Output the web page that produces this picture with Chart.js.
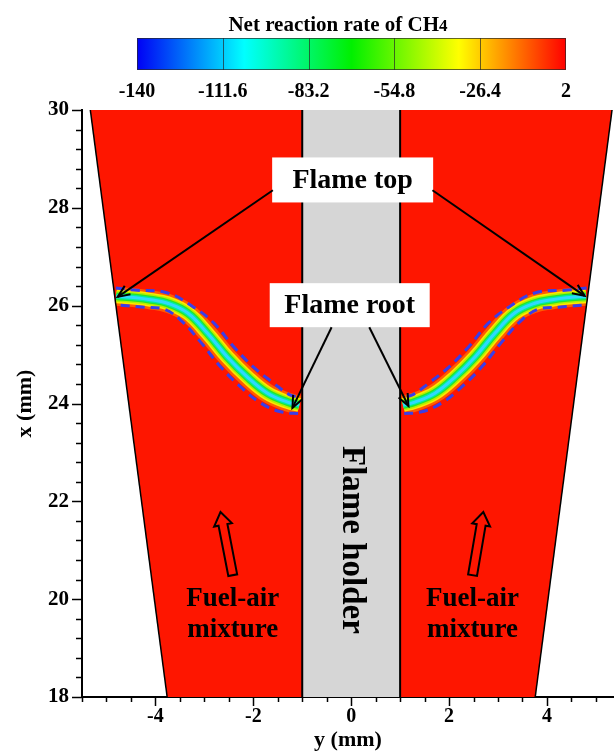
<!DOCTYPE html>
<html>
<head>
<meta charset="utf-8">
<script src="https://cdn.jsdelivr.net/npm/chart.js@4.4.1/dist/chart.umd.min.js"></script>
<style>
  html, body { margin: 0; padding: 0; background: #fff; overflow: hidden; }
  #wrap { width: 614px; height: 754px; }
</style>
</head>
<body>
<div id="wrap"><canvas id="flameChart"></canvas></div>
<script>
// channel geometry: axial positions (x, mm) and wall half widths (y, mm)
const wallX = [30, 18];
const wallHalfWidth = [5.33, 3.76];
const holderHalfWidth = [1.0, 1.0];

// flame front centre line, left branch (y, x)
const flameY = [-4.80, -4.40, -4.10, -3.75, -3.34, -2.94, -2.53, -2.12, -1.71, -1.30, -1.06];
const flameX = [26.19, 26.16, 26.12, 26.05, 25.85, 25.44, 24.95, 24.54, 24.21, 24.03, 23.97];

// dashed iso-lines either side of the flame, left branch
const upperY = [-4.81, -4.44, -3.75, -3.22, -2.81, -2.40, -2.00, -1.59, -1.24, -1.04];
const upperX = [26.36, 26.32, 26.26, 25.97, 25.65, 25.16, 24.75, 24.42, 24.17, 24.13];
const lowerY = [-4.71, -4.24, -3.83, -3.49, -3.08, -2.67, -2.26, -1.85, -1.44, -1.04];
const lowerX = [26.01, 25.97, 25.93, 25.71, 25.26, 24.75, 24.34, 24.01, 23.83, 23.79];

// colour bar
const barTicks = [-140, -111.6, -83.2, -54.8, -26.4, 2];
const barColors = ['#0000f5', '#00ffff', '#00f000', '#ffff00', '#ff0000'];

// axis ticks
const xTickLabels = [-4, -2, 0, 2, 4];
const yTickLabels = [18, 20, 22, 24, 26, 28, 30];
const xMinorStep = 0.5;
const yMinorStep = 0.4;

const RED = '#fe1600';
const GREY = '#d6d6d6';
const FONT = 'Liberation Serif';

function pts(ys, xs) {
  return ys.map((v, i) => ({ x: v, y: xs[i] }));
}
function mirror(p) {
  return p.map(q => ({ x: -q.x, y: q.y }));
}

const leftRed = [
  { x: -wallHalfWidth[0], y: wallX[0] }, { x: -holderHalfWidth[0], y: wallX[0] },
  { x: -holderHalfWidth[1], y: wallX[1] }, { x: -wallHalfWidth[1], y: wallX[1] }
];
const holder = [
  { x: -holderHalfWidth[0], y: wallX[0] }, { x: holderHalfWidth[0], y: wallX[0] },
  { x: holderHalfWidth[1], y: wallX[1] }, { x: -holderHalfWidth[1], y: wallX[1] }
];

const flameL = pts(flameY, flameX);
const upperL = pts(upperY, upperX);
const lowerL = pts(lowerY, lowerX);

const bandLayers = [
  { color: 'rgba(255,150,0,0.55)', width: 19 },
  { color: '#ffe600', width: 14 },
  { color: '#b4f000', width: 11 },
  { color: '#28e428', width: 8 },
  { color: '#00eea0', width: 5.5 },
  { color: '#30d8ff', width: 3 }
];

// datasets listed from bottom to top
const datasets = [];
datasets.push({ data: leftRed, fill: 'shape', backgroundColor: RED, borderColor: RED, borderWidth: 1 });
datasets.push({ data: mirror(leftRed), fill: 'shape', backgroundColor: RED, borderColor: RED, borderWidth: 1 });
datasets.push({ data: holder, fill: 'shape', backgroundColor: GREY, borderColor: GREY, borderWidth: 1 });
bandLayers.forEach(l => {
  [flameL, mirror(flameL)].forEach(d => {
    datasets.push({ data: d, borderColor: l.color, borderWidth: l.width, tension: 0.4, borderCapStyle: 'butt' });
  });
});
[upperL, lowerL, mirror(upperL), mirror(lowerL)].forEach(d => {
  datasets.push({ data: d, borderColor: '#3a3ee8', borderWidth: 3, borderDash: [9, 6], tension: 0.4 });
});
// walls
[-1, 1].forEach(s => {
  datasets.push({ data: [{ x: s * wallHalfWidth[0], y: wallX[0] }, { x: s * wallHalfWidth[1], y: wallX[1] }], borderColor: '#000', borderWidth: 1.5 });
  datasets.push({ data: [{ x: s * holderHalfWidth[0], y: wallX[0] }, { x: s * holderHalfWidth[1], y: wallX[1] }], borderColor: '#000', borderWidth: 2 });
});
datasets.forEach((d, i) => {
  d.showLine = true;
  d.pointRadius = 0;
  d.order = datasets.length - i;
});

// annotation placement in data units
const notes = {
  topBox: { x: 0.03, y: 28.57, w: 161, h: 45, text: 'Flame top' },
  rootBox: { x: -0.03, y: 26.01, w: 160, h: 44, text: 'Flame root' },
  topArrows: [[-1.6, 28.36, -4.77, 26.18], [1.66, 28.36, 4.77, 26.2]],
  rootArrows: [[-0.40, 25.56, -1.2, 23.91], [0.37, 25.56, 1.17, 23.95]],
  flowArrows: [[-2.42, 20.49, -2.67, 21.78], [2.48, 20.49, 2.70, 21.78]],
  flowText: [[-2.42, 20.0, 19.37], [2.48, 20.0, 19.37]],
  holderText: { x: 0, y: 21.21 }
};

function arrow(ctx, x1, y1, x2, y2, head) {
  ctx.beginPath(); ctx.moveTo(x1, y1); ctx.lineTo(x2, y2); ctx.stroke();
  const a = Math.atan2(y2 - y1, x2 - x1);
  ctx.beginPath();
  ctx.moveTo(x2 - head * Math.cos(a - 0.4), y2 - head * Math.sin(a - 0.4));
  ctx.lineTo(x2, y2);
  ctx.lineTo(x2 - head * Math.cos(a + 0.4), y2 - head * Math.sin(a + 0.4));
  ctx.stroke();
}

function blockArrow(ctx, bx, by, tx, ty) {
  const a = Math.atan2(ty - by, tx - bx);
  const L = Math.hypot(tx - bx, ty - by);
  const sw = 4.5, hw = 9, hl = 13;
  ctx.save();
  ctx.translate(bx, by); ctx.rotate(a);
  ctx.beginPath();
  ctx.moveTo(0, -sw); ctx.lineTo(L - hl, -sw); ctx.lineTo(L - hl, -hw); ctx.lineTo(L, 0);
  ctx.lineTo(L - hl, hw); ctx.lineTo(L - hl, sw); ctx.lineTo(0, sw); ctx.closePath();
  ctx.stroke();
  ctx.restore();
}

const decorPlugin = {
  id: 'decor',
  afterDatasetsDraw(chart) {
    const ctx = chart.ctx;
    const xs = chart.scales.x, ys = chart.scales.y;
    const px = v => xs.getPixelForValue(v);
    const py = v => ys.getPixelForValue(v);
    ctx.save();
    ctx.strokeStyle = '#000';
    ctx.fillStyle = '#000';
    ctx.lineWidth = 2;

    // label boxes
    [notes.topBox, notes.rootBox].forEach(b => {
      const cx = px(b.x), cy = py(b.y);
      ctx.fillStyle = '#fff';
      ctx.fillRect(cx - b.w / 2, cy - b.h / 2, b.w, b.h);
      ctx.fillStyle = '#000';
      ctx.font = 'bold 28px ' + FONT;
      ctx.textAlign = 'center';
      ctx.textBaseline = 'middle';
      ctx.fillText(b.text, cx, cy + 1);
    });

    notes.topArrows.concat(notes.rootArrows).forEach(a => {
      arrow(ctx, px(a[0]), py(a[1]), px(a[2]), py(a[3]), 13);
    });

    notes.flowArrows.forEach(a => {
      blockArrow(ctx, px(a[0]), py(a[1]), px(a[2]), py(a[3]));
    });

    ctx.font = 'bold 27px ' + FONT;
    ctx.textAlign = 'center';
    ctx.textBaseline = 'middle';
    notes.flowText.forEach(t => {
      ctx.fillText('Fuel-air', px(t[0]), py(t[1]));
      ctx.fillText('mixture', px(t[0]), py(t[2]));
    });

    // rotated holder label
    ctx.save();
    ctx.translate(px(notes.holderText.x), py(notes.holderText.y));
    ctx.rotate(Math.PI / 2);
    ctx.font = 'bold 33px ' + FONT;
    ctx.fillText('Flame holder', 0, 0);
    ctx.restore();
    ctx.restore();
  },
  afterDraw(chart) {
    const ctx = chart.ctx;
    const xs = chart.scales.x, ys = chart.scales.y;
    const area = chart.chartArea;
    ctx.save();
    ctx.strokeStyle = '#000';
    ctx.lineWidth = 1.5;

    // tick marks
    for (let i = 0; ; i++) {
      const v = xs.min + i * xMinorStep;
      if (v > xs.max + 1e-9) break;
      const major = Math.abs(v - Math.round(v)) < 1e-6 && xTickLabels.includes(Math.round(v));
      const p = Math.round(xs.getPixelForValue(v)) + 0.5;
      ctx.beginPath(); ctx.moveTo(p, area.bottom); ctx.lineTo(p, area.bottom + (major ? 9 : 5)); ctx.stroke();
    }
    for (let i = 0; ; i++) {
      const v = ys.min + i * yMinorStep;
      if (v > ys.max + 1e-9) break;
      const major = Math.abs(v - Math.round(v)) < 1e-6 && yTickLabels.includes(Math.round(v));
      const p = Math.round(ys.getPixelForValue(v)) + 0.5;
      ctx.beginPath(); ctx.moveTo(area.left, p); ctx.lineTo(area.left - (major ? 10 : 6), p); ctx.stroke();
    }

    // colour bar
    const bx = 137, by = 38, bw = 429, bh = 32;
    const g = ctx.createLinearGradient(bx, 0, bx + bw, 0);
    barColors.forEach((c, i) => g.addColorStop(i / (barColors.length - 1), c));
    ctx.fillStyle = g;
    ctx.fillRect(bx, by, bw, bh);
    ctx.strokeStyle = 'rgba(40,40,40,0.7)';
    ctx.lineWidth = 1;
    for (let i = 1; i < barTicks.length - 1; i++) {
      const p = Math.round(bx + bw * i / (barTicks.length - 1)) + 0.5;
      ctx.beginPath(); ctx.moveTo(p, by); ctx.lineTo(p, by + bh); ctx.stroke();
    }
    ctx.strokeRect(bx + 0.5, by + 0.5, bw - 1, bh - 1);

    ctx.fillStyle = '#000';
    ctx.textAlign = 'center';
    ctx.textBaseline = 'alphabetic';
    ctx.font = 'bold 20px ' + FONT;
    barTicks.forEach((t, i) => {
      ctx.fillText(String(t), bx + bw * i / (barTicks.length - 1), 97);
    });

    // colour bar title with small "4"
    const main = 'Net reaction rate of CH', sub = '4';
    ctx.font = 'bold 21px ' + FONT;
    const w1 = ctx.measureText(main).width;
    ctx.font = 'bold 17px ' + FONT;
    const w2 = ctx.measureText(sub).width;
    const start = 338 - (w1 + w2) / 2;
    ctx.textAlign = 'left';
    ctx.font = 'bold 21px ' + FONT;
    ctx.fillText(main, start, 31);
    ctx.font = 'bold 17px ' + FONT;
    ctx.fillText(sub, start + w1, 31);
    ctx.restore();
  }
};

new Chart(document.getElementById('flameChart'), {
  type: 'scatter',
  data: { datasets: datasets },
  options: {
    responsive: true,
    maintainAspectRatio: false,
    animation: false,
    layout: { padding: { top: 110, right: 0, left: 0, bottom: 0 } },
    plugins: { legend: { display: false }, tooltip: { enabled: false } },
    scales: {
      x: {
        type: 'linear',
        min: -5.5,
        max: 5.37,
        afterBuildTicks: s => { s.ticks = xTickLabels.map(v => ({ value: v })); },
        afterFit: s => { s.height = 57; },
        grid: { display: false, drawTicks: false },
        border: { display: true, color: '#000', width: 2 },
        ticks: { color: '#000', padding: 8, font: { family: FONT, weight: 'bold', size: 20 } },
        title: { display: true, text: 'y (mm)', color: '#000', padding: { top: 0, bottom: 0 },
                 font: { family: FONT, weight: 'bold', size: 22 } }
      },
      y: {
        type: 'linear',
        min: 18,
        max: 30,
        afterBuildTicks: s => { s.ticks = yTickLabels.map(v => ({ value: v })); },
        afterFit: s => { s.width = 82; },
        grid: { display: false, drawTicks: false },
        border: { display: true, color: '#000', width: 2 },
        ticks: { color: '#000', padding: 13, font: { family: FONT, weight: 'bold', size: 21 } },
        title: { display: true, text: 'x (mm)', color: '#000', padding: { top: 12, bottom: 0 },
                 font: { family: FONT, weight: 'bold', size: 22 } }
      }
    }
  },
  plugins: [decorPlugin]
});
</script>
</body>
</html>
